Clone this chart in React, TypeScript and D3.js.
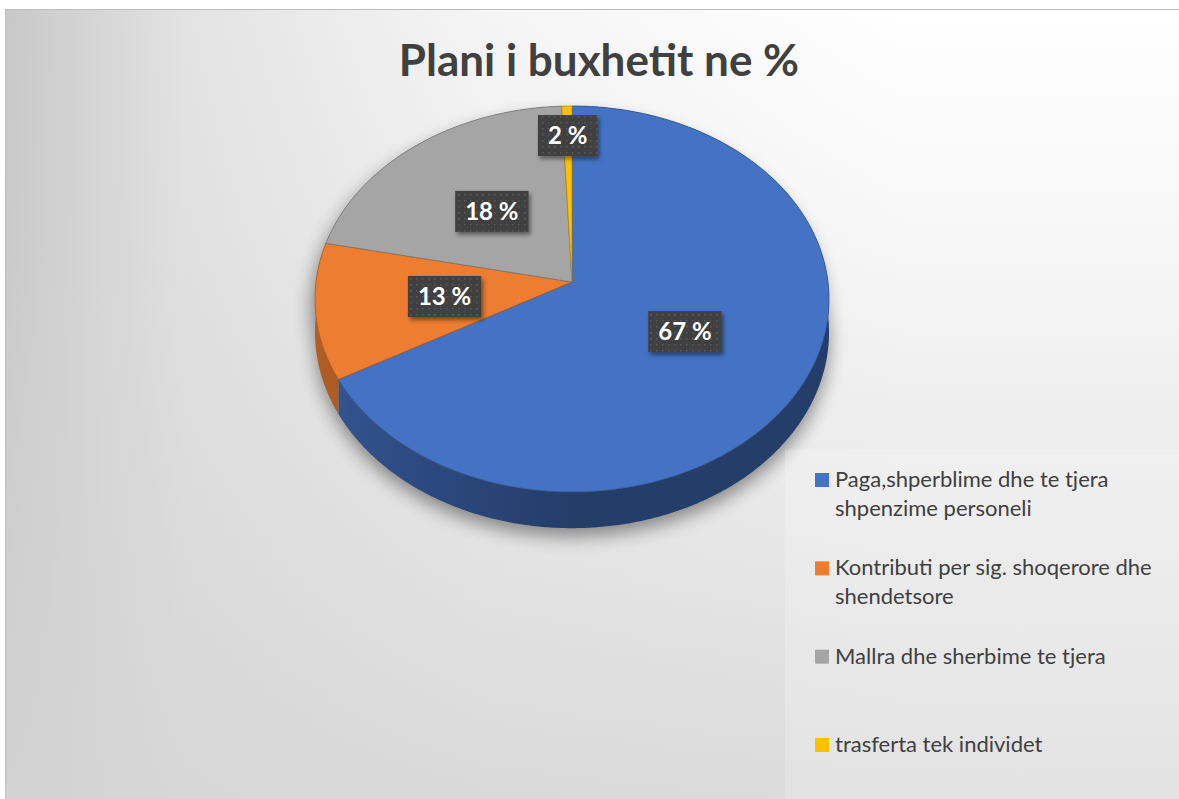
import React, { useEffect, useRef } from "react";
import * as d3 from "d3";

const categories = [
  "Paga,shperblime dhe te tjera shpenzime personeli",
  "Kontributi per sig. shoqerore dhe shendetsore",
  "Mallra dhe sherbime te tjera",
  "trasferta tek individet",
];
// slice sizes as they are drawn in the picture
const shares = [66.9, 11.4, 21.0, 0.7];
// data labels as printed on the chart
const labels = ["67 %", "13 %", "18 %", "2 %"];
const colors = ["#4472C4", "#ED7D31", "#A5A5A5", "#FFC000"];
const title = "Plani i buxhetit ne %";

const W = 1179;
const H = 799;
const FONT = "Lato, 'Open Sans', sans-serif";

// 3d pie geometry
const cx = 572;
const cy = 282;
const B = 256; // horizontal radius
const A = 191.5; // vertical radius before perspective
const k = 0.088; // perspective strength
const depth = 33;

const proj = (a: number, h = 0, f = 1): [number, number] => {
  const den = 1 + k * f * Math.cos(a);
  return [cx + (B * f * Math.sin(a)) / den, cy - (A * f * Math.cos(a)) / den + h / den];
};

const arcPts = (a0: number, a1: number, h: number) => {
  const n = Math.max(2, Math.ceil(((a1 - a0) * 180) / Math.PI / 0.5));
  return d3.range(n + 1).map((i) => proj(a0 + ((a1 - a0) * i) / n, h));
};

const wrap = (text: string, font: string, maxW: number) => {
  const ctx = document.createElement("canvas").getContext("2d")!;
  ctx.font = font;
  const words = text.split(" ");
  const lines: string[] = [];
  let cur = "";
  words.forEach((w) => {
    const t = cur ? cur + " " + w : w;
    if (ctx.measureText(t).width > maxW && cur) {
      lines.push(cur);
      cur = w;
    } else cur = t;
  });
  if (cur) lines.push(cur);
  return lines;
};

const App = () => {
  const ref = useRef<SVGSVGElement>(null);

  useEffect(() => {
    document.body.style.margin = "0";
    const svg = d3.select(ref.current);
    svg.selectAll("*").remove();
    const defs = svg.append("defs");

    // background gradients
    const bgH = defs.append("linearGradient").attr("id", "bgH").attr("x1", 0).attr("x2", 1).attr("y1", 0).attr("y2", 0);
    bgH.append("stop").attr("offset", 0).attr("stop-color", "#c8c8c8");
    bgH.append("stop").attr("offset", 0.15).attr("stop-color", "#e3e3e3");
    bgH.append("stop").attr("offset", 0.4).attr("stop-color", "#f5f5f5");
    bgH.append("stop").attr("offset", 0.75).attr("stop-color", "#ffffff");
    const bgV = defs.append("linearGradient").attr("id", "bgV").attr("x1", 0).attr("x2", 0).attr("y1", 0).attr("y2", 1);
    bgV.append("stop").attr("offset", 0).attr("stop-color", "#d4d4d4").attr("stop-opacity", 0);
    bgV.append("stop").attr("offset", 0.3).attr("stop-color", "#d4d4d4").attr("stop-opacity", 0.2);
    bgV.append("stop").attr("offset", 1).attr("stop-color", "#d4d4d4").attr("stop-opacity", 0.85);

    const blur = defs.append("filter").attr("id", "pieShadow").attr("x", -0.3).attr("y", -0.3).attr("width", 1.6).attr("height", 1.6);
    blur.append("feGaussianBlur").attr("stdDeviation", 9);

    const ds = defs.append("filter").attr("id", "lblShadow").attr("x", -0.3).attr("y", -0.3).attr("width", 1.6).attr("height", 1.6);
    ds.append("feDropShadow").attr("dx", 2).attr("dy", 3).attr("stdDeviation", 2).attr("flood-color", "#000").attr("flood-opacity", 0.45);

    const pat = defs.append("pattern").attr("id", "dots").attr("width", 6).attr("height", 6).attr("patternUnits", "userSpaceOnUse");
    pat.append("rect").attr("width", 6).attr("height", 6).attr("fill", "#404040");
    pat.append("rect").attr("x", 2).attr("y", 2).attr("width", 1.5).attr("height", 1.5).attr("fill", "#5a5a5a");

    svg.append("rect").attr("width", W).attr("height", H).attr("fill", "#fff");
    svg.append("rect").attr("x", 5.5).attr("y", 9.5).attr("width", W + 20).attr("height", H + 20).attr("fill", "url(#bgH)").attr("stroke", "#bdbdbd");
    svg.append("rect").attr("x", 6).attr("y", 10).attr("width", W).attr("height", H).attr("fill", "url(#bgV)");

    // title
    svg.append("text")
      .attr("x", 599)
      .attr("y", 76)
      .attr("text-anchor", "middle")
      .attr("font-family", FONT)
      .attr("font-weight", 700)
      .attr("font-size", 44)
      .attr("fill", "#404040")
      .text(title);

    const pie = d3.pie<number>().sort(null).value((d) => d);
    const arcs = pie(shares);
    const color = d3.scaleOrdinal<number, string>().domain(d3.range(colors.length)).range(colors);

    // pie shadow
    const sil = arcPts(0, Math.PI * 2, 0);
    const silB = arcPts(0, Math.PI * 2, depth);
    const outline = (pts: [number, number][]) => "M" + pts.map((p) => p.join(",")).join("L") + "Z";
    const shadowG = svg.append("g").attr("filter", "url(#pieShadow)").attr("opacity", 0.42);
    shadowG.append("path").attr("d", outline(sil.map(([x, y]) => [x - 4, y + 10] as [number, number]))).attr("fill", "#000");
    shadowG.append("path").attr("d", outline(silB.map(([x, y]) => [x, y + 8] as [number, number]))).attr("fill", "#000");

    // walls
    arcs.forEach((d, i) => {
      const base = d3.color(color(i))!;
      const gid = "wall" + i;
      const g = defs.append("linearGradient").attr("id", gid).attr("gradientUnits", "userSpaceOnUse")
        .attr("x1", cx - B).attr("x2", cx + B).attr("y1", 0).attr("y2", 0);
      g.append("stop").attr("offset", 0).attr("stop-color", base.darker(0.8).formatHex());
      g.append("stop").attr("offset", 0.2).attr("stop-color", base.darker(1.2).formatHex());
      g.append("stop").attr("offset", 0.5).attr("stop-color", base.darker(1.75).formatHex());
      g.append("stop").attr("offset", 1).attr("stop-color", base.darker(1.75).formatHex());
      const top = arcPts(d.startAngle, d.endAngle, 0);
      const bot = arcPts(d.startAngle, d.endAngle, depth).reverse();
      svg.append("path").attr("d", outline([...top, ...bot])).attr("fill", `url(#${gid})`);
    });

    // top faces
    arcs.forEach((d, i) => {
      const c = color(i);
      const pts = [proj(0, 0, 0), ...arcPts(d.startAngle, d.endAngle, 0)];
      svg.append("path")
        .attr("d", outline(pts))
        .attr("fill", c)
        .attr("stroke", d3.color(c)!.darker(1).formatHex())
        .attr("stroke-width", 0.7)
        .attr("stroke-linejoin", "round");
    });

    // data labels
    arcs.forEach((d, i) => {
      const mid = (d.startAngle + d.endAngle) / 2;
      const f = d.data < 5 ? 0.82 : 0.5;
      const [x, y] = proj(mid, 0, f);
      const g = svg.append("g");
      const rect = g.append("rect");
      const t = g.append("text")
        .attr("x", x)
        .attr("y", y + 8.5)
        .attr("text-anchor", "middle")
        .attr("font-family", FONT)
        .attr("font-weight", 700)
        .attr("font-size", 24)
        .attr("fill", "#fff")
        .text(labels[i]);
      const w = (t.node() as SVGTextElement).getComputedTextLength() + 20;
      rect.attr("x", x - w / 2).attr("y", y - 20.5).attr("width", w).attr("height", 41)
        .attr("fill", "url(#dots)").attr("filter", "url(#lblShadow)");
    });

    // legend
    svg.append("rect").attr("x", 785).attr("y", 450).attr("width", 400).attr("height", 360)
      .attr("fill", "#ffffff").attr("opacity", 0.22);
    const legendY = d3.scaleLinear().domain([0, categories.length - 1]).range([487, 752]);
    const lf = `400 22px Lato`;
    categories.forEach((c, i) => {
      const y = legendY(i);
      svg.append("rect").attr("x", 815).attr("y", y - 14).attr("width", 14).attr("height", 14).attr("fill", color(i));
      const lines = wrap(c, lf, 335);
      const t = svg.append("text")
        .attr("x", 835)
        .attr("y", y)
        .attr("font-family", FONT)
        .attr("font-size", 22)
        .attr("fill", "#404040");
      lines.forEach((l, j) => t.append("tspan").attr("x", 835).attr("dy", j === 0 ? 0 : 29).text(l));
    });
  }, []);

  return <svg ref={ref} width={W} height={H} style={{ display: "block" }} />;
};

export default App;
